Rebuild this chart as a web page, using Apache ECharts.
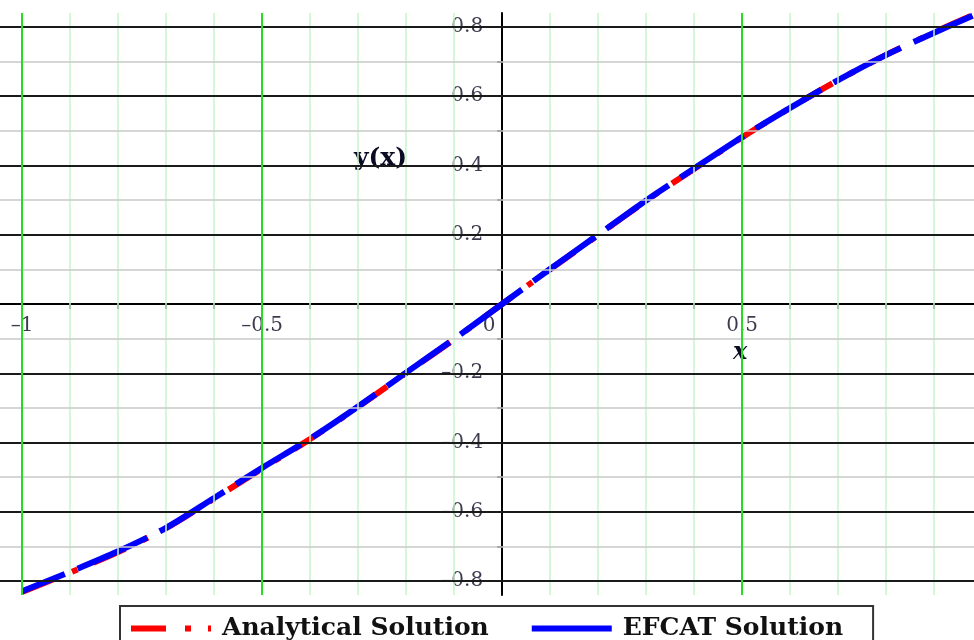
<!DOCTYPE html>
<html>
<head>
<meta charset="utf-8">
<script src="https://cdn.jsdelivr.net/npm/echarts@6/dist/echarts.min.js"></script>
<style>
html,body{margin:0;padding:0;background:#fff;}
#chart{width:974px;height:640px;}
</style>
</head>
<body>
<div id="chart"></div>
<script>
// ---- data ----
var xValues = [-1, -0.9, -0.8, -0.7, -0.6, -0.5, -0.4, -0.3, -0.2, -0.1, 0, 0.1, 0.2, 0.3, 0.4, 0.5, 0.6, 0.7, 0.8, 0.9, 0.98];
var analyticalY = [-0.831, -0.775, -0.716, -0.647, -0.562, -0.475, -0.390, -0.297, -0.199, -0.102, 0, 0.100, 0.199, 0.298, 0.390, 0.481, 0.566, 0.646, 0.719, 0.784, 0.834];
var efcatY = [-0.829, -0.773, -0.714, -0.646, -0.560, -0.473, -0.389, -0.296, -0.198, -0.101, 0, 0.101, 0.200, 0.299, 0.391, 0.482, 0.566, 0.646, 0.719, 0.783, 0.832];
var xTickLabels = [-1, -0.5, 0, 0.5];
var yTickLabels = [-0.8, -0.6, -0.4, -0.2, 0.2, 0.4, 0.6, 0.8];
var xGridMinor = [-0.9, -0.8, -0.7, -0.6, -0.4, -0.3, -0.2, -0.1, 0.1, 0.2, 0.3, 0.4, 0.6, 0.7, 0.8, 0.9];
var xGridMajor = [-1, -0.5, 0.5];
var yGridMinor = [-0.7, -0.5, -0.3, -0.1, 0.1, 0.3, 0.5, 0.7];
var yGridMajor = [-0.8, -0.6, -0.4, -0.2, 0.2, 0.4, 0.6, 0.8];
var xTicks = [-1, -0.9, -0.8, -0.7, -0.6, -0.5, -0.4, -0.3, -0.2, -0.1, 0.1, 0.2, 0.3, 0.4, 0.5, 0.6, 0.7, 0.8, 0.9];
var yTicks = [-0.8, -0.7, -0.6, -0.5, -0.4, -0.3, -0.2, -0.1, 0.1, 0.2, 0.3, 0.4, 0.5, 0.6, 0.7, 0.8];

function pairs(xs, ys) { return xs.map(function (x, i) { return [x, ys[i]]; }); }
function fmt(v) {
  var s = Math.abs(v).toString();
  if (s.charAt(0) === '.') s = '0' + s;
  return (v < 0 ? '\u2013' : '') + s;
}

var gridLines = [];
xGridMinor.forEach(function (v) { gridLines.push({ xAxis: v, lineStyle: { color: '#c8f5c8', width: 1.5, type: 'solid' } }); });
yGridMinor.forEach(function (v) { gridLines.push({ yAxis: v, lineStyle: { color: '#c8c8c8', width: 1.5, type: 'solid' } }); });
yGridMajor.forEach(function (v) { gridLines.push({ yAxis: v, lineStyle: { color: '#1a1a1a', width: 2, type: 'solid' } }); });
xGridMajor.forEach(function (v) { gridLines.push({ xAxis: v, lineStyle: { color: '#22dd22', width: 2, type: 'solid' } }); });

var labelFont = 'DejaVu Serif';
var tickTextColor = '#0a0a22';

var xLabelData = xTickLabels.map(function (v) {
  return { value: [v, 0], label: { offset: v === 0 ? [-13, 0] : [0, 0] } };
});
var yLabelData = yTickLabels.map(function (v) { return { value: [0, v] }; });

var chart = echarts.init(document.getElementById('chart'), null, { renderer: 'canvas' });
chart.setOption({
  animation: false,
  backgroundColor: '#ffffff',
  grid: { left: 0, right: 0, top: 13, bottom: 45, outerBoundsMode: 'none', containLabel: false },
  xAxis: {
    type: 'value', min: -1.046, max: 0.983,
    splitLine: { show: false },
    axisLine: { onZero: true, lineStyle: { color: '#000', width: 2 } },
    axisTick: { show: true, customValues: xTicks, length: 5, lineStyle: { color: '#000', width: 1.5 } },
    axisLabel: { show: false }
  },
  yAxis: {
    type: 'value', min: -0.84, max: 0.84,
    splitLine: { show: false },
    axisLine: { onZero: true, lineStyle: { color: '#000', width: 2 } },
    axisTick: { show: true, customValues: yTicks, length: 5, lineStyle: { color: '#000', width: 1.5 } },
    axisLabel: { show: false }
  },
  legend: {
    left: 120, top: 606,
    orient: 'horizontal',
    padding: [10, 30, 10, 8],
    itemGap: 40,
    itemWidth: 80, itemHeight: 14,
    borderColor: '#333', borderWidth: 2,
    backgroundColor: '#fff',
    itemStyle: { opacity: 0 },
    textStyle: { fontFamily: labelFont, fontWeight: 'bold', fontSize: 25, color: '#111', padding: [0, 0, 0, 6] },
    data: [
      { name: 'Analytical Solution', lineStyle: { width: 6 } },
      { name: 'EFCAT Solution', lineStyle: { type: 'solid', width: 6 } }
    ]
  },
  graphic: [
    { type: 'text', left: 354, top: 146, style: { text: 'y(x)', font: 'bold 25px "DejaVu Serif"', fill: tickTextColor } },
    { type: 'text', left: 733, top: 341, style: { text: 'x', font: 'italic bold 24px "DejaVu Serif"', fill: tickTextColor } }
  ],
  series: [
    {
      type: 'scatter', name: 'xTickLabels', z: 0, silent: true, symbolSize: 0,
      data: xLabelData,
      label: { show: true, position: 'bottom', distance: 12, formatter: function (p) { return fmt(p.value[0]); },
        fontFamily: labelFont, fontSize: 20, color: tickTextColor }
    },
    {
      type: 'scatter', name: 'yTickLabels', z: 0, silent: true, symbolSize: 0,
      data: yLabelData,
      label: { show: true, position: 'left', distance: 19, formatter: function (p) { return fmt(p.value[1]); },
        fontFamily: labelFont, fontSize: 20, color: tickTextColor }
    },
    {
      type: 'line', name: 'grid', data: [], z: 1, silent: true,
      markLine: { silent: true, symbol: 'none', label: { show: false }, animation: false, data: gridLines }
    },
    {
      type: 'line', name: 'Analytical Solution', z: 3, showSymbol: false, smooth: 0.3,
      data: pairs(xValues, analyticalY),
      lineStyle: { color: '#ff0000', width: 6, type: [35, 19, 6, 17] },
      itemStyle: { color: '#ff0000' }
    },
    {
      type: 'line', name: 'EFCAT Solution', z: 4, showSymbol: false, smooth: 0.3,
      data: pairs(xValues, efcatY),
      lineStyle: { color: '#0000ff', width: 6, type: [76, 14], dashOffset: 30 },
      itemStyle: { color: '#0000ff' }
    }
  ]
});
</script>
</body>
</html>
